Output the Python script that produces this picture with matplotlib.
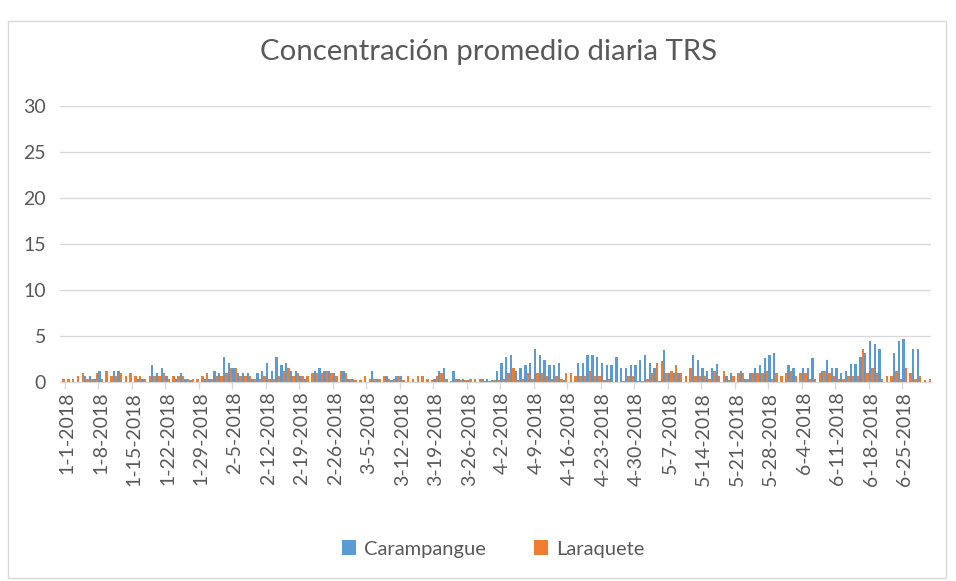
import matplotlib
matplotlib.use("Agg")
import matplotlib.pyplot as plt
from matplotlib.patches import Rectangle
import numpy as np
import pandas as pd

plt.rcParams['font.family'] = ['Lato', 'DejaVu Sans']

# Daily categories (Dec 31 2017 .. Jun 30 2018)
dates = pd.date_range("2017-12-31", "2018-06-30", freq="D")

carampangue = [
    0, 0, 0, 0, 0, 0.6, 0.6, 0.3, 1.2, 0,
    0, 1.2, 1.2, 0, 0, 0, 0.3, 0.3, 0, 1.8,
    0.95, 1.5, 0.6, 0, 0.3, 0.95, 0.3, 0.2, 0, 0,
    0.3, 0.3, 1.2, 0.95, 2.7, 2.1, 1.5, 0.95, 0.95, 0.95,
    0.3, 0.95, 1.2, 2.1, 1.2, 2.7, 1.8, 2.1, 1.2, 1.2,
    0.6, 0.3, 0, 1.2, 1.5, 1.2, 1.2, 0.95, 0, 1.2,
    0.3, 0.3, 0, 0, 0, 1.2, 0.3, 0, 0.6, 0.2,
    0.6, 0.6, 0, 0, 0, 0, 0, 0, 0.3, 1.2,
    1.5, 0, 1.2, 0.3, 0.3, 0.2, 0, 0, 0.3, 0.3,
    0.2, 1.2, 2.1, 2.7, 2.9, 1.2, 1.5, 1.85, 2.1, 3.6,
    2.9, 2.4, 1.85, 1.85, 2.1, 0.2, 0, 0, 2.1, 2.1,
    2.9, 2.9, 2.7, 2.1, 1.8, 1.8, 2.7, 1.5, 1.5, 1.8,
    1.8, 2.4, 2.9, 2.1, 1.5, 0.1, 3.5, 0.95, 0.95, 0.95,
    0, 0, 2.9, 2.4, 1.5, 1.2, 1.5, 2.0, 0, 0.6,
    0.95, 0, 1.2, 0.3, 0.95, 1.5, 1.8, 2.6, 2.9, 3.2,
    0, 0, 1.8, 1.5, 0, 1.5, 1.5, 2.6, 0, 1.2,
    2.4, 1.5, 1.5, 0.95, 1.2, 2.0, 2.0, 2.7, 3.2, 4.45,
    4.1, 3.6, 0, 0, 3.2, 4.45, 4.67, 0, 3.6, 3.6,
    0, 0,
]

laraquete = [
    0.3, 0.3, 0.3, 0.6, 0.95, 0.3, 0.3, 0.95, 0.3, 1.2,
    0.6, 0.6, 0.95, 0.6, 0.95, 0.6, 0.6, 0.3, 0.6, 0.6,
    0.6, 0.95, 0.3, 0.6, 0.6, 0.6, 0.3, 0.3, 0.3, 0.6,
    0.95, 0.3, 0.6, 0.6, 0.95, 1.5, 1.5, 0.6, 0.6, 0.6,
    0.3, 0.3, 0.6, 0.3, 0.3, 0.6, 1.2, 1.5, 0.6, 0.95,
    0.6, 0.6, 0.95, 0.95, 0.95, 1.2, 0.95, 0.6, 1.2, 0.95,
    0.3, 0.2, 0.2, 0.6, 0.3, 0.3, 0.3, 0.6, 0.3, 0.3,
    0.6, 0.2, 0.6, 0.3, 0.6, 0.6, 0.3, 0.2, 0.6, 0.95,
    0.3, 0.1, 0.3, 0.2, 0.2, 0.3, 0.3, 0.3, 0.1, 0.1,
    0.2, 0.2, 0.3, 0.95, 1.5, 0.2, 0.3, 0.95, 0.3, 0.95,
    0.95, 0.65, 0.3, 0.65, 0.3, 0.95, 0.95, 0.6, 0.6, 0.6,
    1.2, 0.6, 0.6, 0.2, 0.3, 0, 0, 0.1, 0.6, 0.6,
    0.1, 0.1, 0.3, 0.95, 2.05, 2.3, 0.95, 1.2, 1.8, 0.95,
    0.6, 1.5, 0.6, 0.6, 0.6, 0.3, 1.2, 0.6, 1.2, 0.2,
    0.6, 0.95, 0.95, 0.3, 0.95, 0.95, 0.95, 1.2, 0.3, 0.95,
    0.6, 0.95, 1.2, 0.6, 0.95, 0.95, 0.3, 0.3, 1.0, 1.2,
    0.95, 0.6, 0.3, 0.3, 0.6, 0.6, 0.6, 3.6, 0.95, 1.5,
    1.0, 0.36, 0.6, 0.7, 1.2, 0.3, 1.5, 1.0, 0.3, 0.6,
    0.25, 0.36,
]

series_names = ["Carampangue", "Laraquete"]
series_colors = ["#5B9BD5", "#ED7D31"]
title = "Concentración promedio diaria TRS"

W, H = 956, 581
fig = plt.figure(figsize=(W / 100, H / 100), dpi=100)

# chart area border
fig.patches.append(Rectangle((8 / W, 1 - 578 / H), (946 - 8) / W, (578 - 21) / H,
                             transform=fig.transFigure, fill=False,
                             edgecolor="#D9D9D9", linewidth=1.0))

left, right, top, bottom = 60, 931, 106, 382
ax = fig.add_axes([left / W, 1 - bottom / H, (right - left) / W, (bottom - top) / H])

x = np.arange(len(dates))
bw = 0.5
ax.bar(x - bw / 2, carampangue, width=bw, color=series_colors[0], label=series_names[0], zorder=3)
ax.bar(x + bw / 2, laraquete, width=bw, color=series_colors[1], label=series_names[1], zorder=3)

ax.set_xlim(-0.5, len(dates) - 0.5)
ax.set_ylim(0, 30)
ax.set_yticks(np.arange(0, 31, 5))
ax.yaxis.grid(True, color="#D9D9D9", linewidth=1.0, zorder=0)
ax.tick_params(axis="y", length=0, pad=10, labelsize=14, labelcolor="#595959")

lab_idx = np.arange(1, len(dates), 7)
ax.set_xticks(lab_idx)
ax.set_xticklabels([f"{d.month}-{d.day}-{d.year}" for d in dates[lab_idx]], rotation=90,
                   fontsize=14, color="#595959")
ax.set_xticks(lab_idx - 0.5, minor=True)
ax.tick_params(axis="x", which="major", length=0, pad=7)
ax.tick_params(axis="x", which="minor", length=5, color="#D9D9D9", width=1)

for s in ["top", "right", "left"]:
    ax.spines[s].set_visible(False)
ax.spines["bottom"].set_color("#D9D9D9")
ax.spines["bottom"].set_zorder(4)
ax.set_axisbelow(True)

fig.text(489 / W, 1 - 52 / H, title, ha="center", va="center", fontsize=21.2,
         fontweight="normal", color="#595959")

fig.legend(loc="center", bbox_to_anchor=(493 / W, 1 - 549 / H), ncol=2, frameon=False,
           fontsize=14.5, handlelength=0.7, handleheight=0.7, handletextpad=0.4,
           columnspacing=2.4, labelcolor="#595959")

fig.savefig("out.png", dpi=100)
